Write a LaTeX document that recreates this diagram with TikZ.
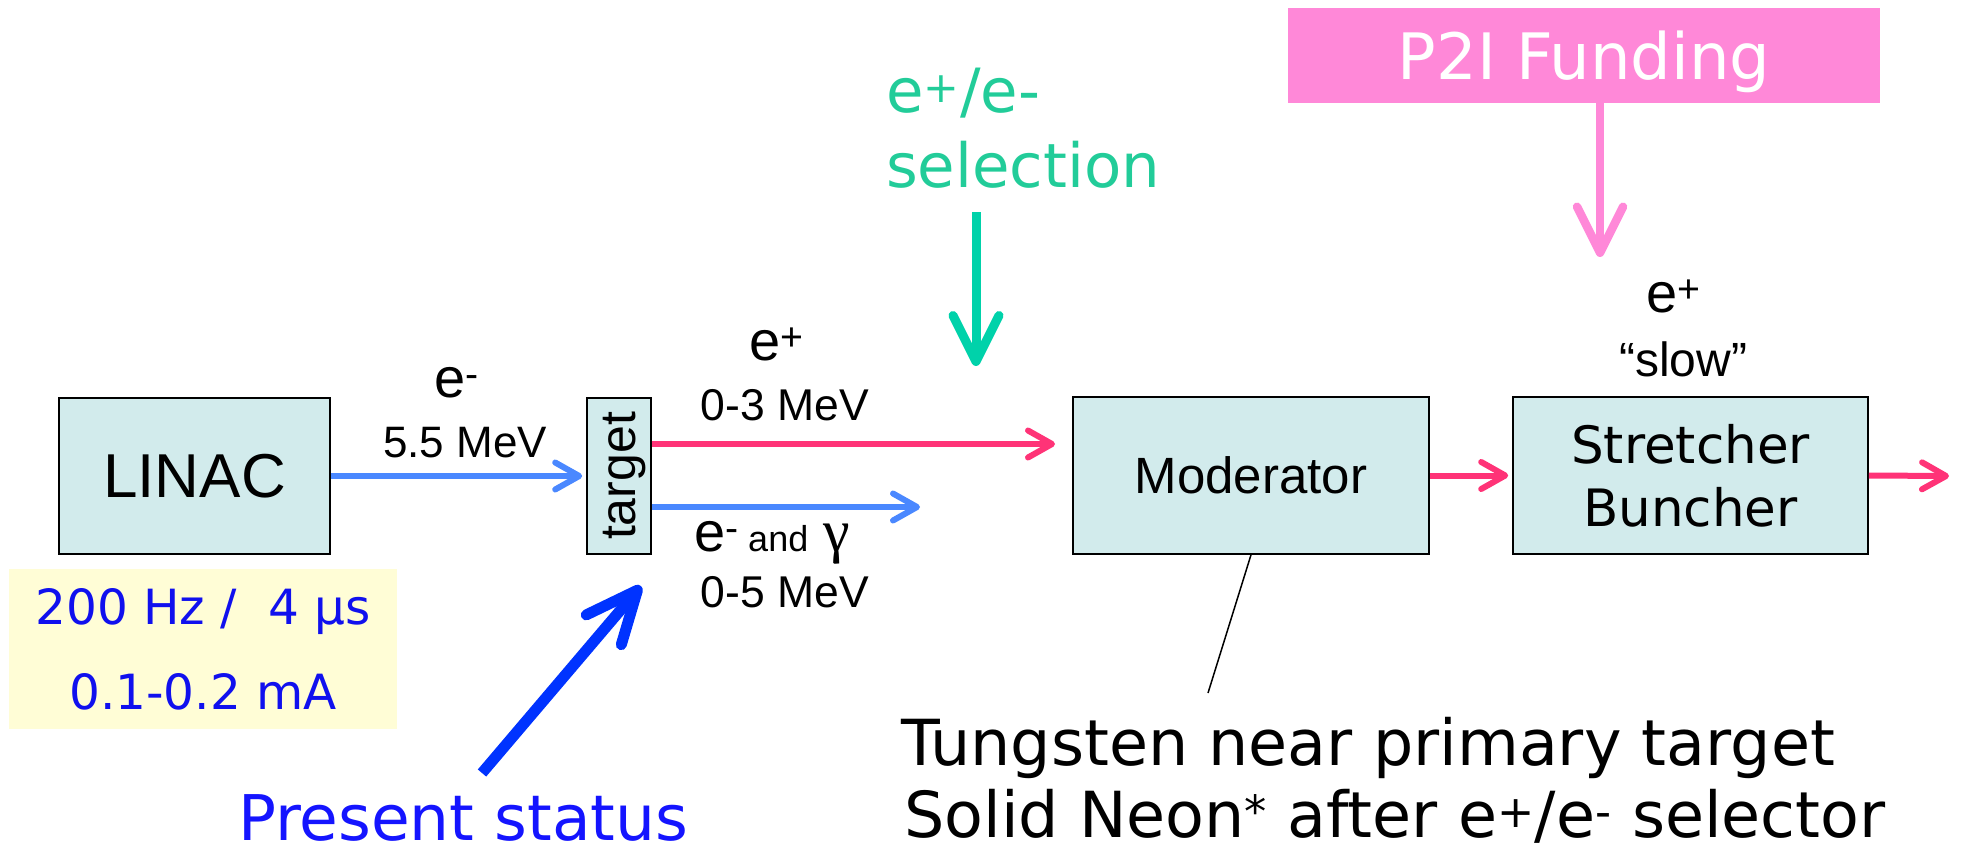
\documentclass[tikz,border=0pt]{standalone}
\usepackage{fontspec}
\setmainfont{Liberation Sans}
\newfontfamily\verd{DejaVu Sans}
\newfontfamily\grk{Liberation Serif}
\usetikzlibrary{arrows.meta}
\definecolor{boxfill}{HTML}{D2EBEC}
\definecolor{yel}{HTML}{FFFDD6}
\definecolor{pinkbox}{HTML}{FF88D8}
\definecolor{posred}{HTML}{FF3377}
\definecolor{eblue}{HTML}{4A88FF}
\definecolor{selarrow}{HTML}{00D2AA}
\definecolor{seltext}{HTML}{22CC99}
\definecolor{statblue}{HTML}{0033FF}
\definecolor{stattext}{HTML}{1414FF}
\definecolor{partext}{HTML}{1010EE}
\newcommand\sz[2]{\fontsize{#1}{#2}\selectfont}
\begin{document}
\begin{tikzpicture}[x=1pt,y=-1pt,
  box/.style={draw=black, line width=1.6pt, fill=boxfill, inner sep=0pt, align=center},
  txt/.style={inner sep=0pt},
  beam/.style={line width=6pt, -{Straight Barb[length=24pt,width=27pt,round]}},
  bigarrow/.style={-{Straight Barb[length=46pt,width=46pt,round]}},
]
\useasboundingbox (0,0) rectangle (1962,849);

% boxes
\node[box, minimum width=271pt, minimum height=156pt, font=\sz{62}{70}] (linac) at (194.5,476) {LINAC};
\node[box, minimum width=64pt, minimum height=156pt] (target) at (619,476) {};
\node[txt, rotate=90, text depth=0pt, font=\sz{50}{56}] (targettxt) at (target.center) {target};
\node[box, minimum width=356pt, minimum height=157pt, font=\sz{51}{58}] (mod) at (1251,475.5) {Moderator};
\node[box, minimum width=355pt, minimum height=157pt, font={\verd\sz{51.5}{63}}] (sb) at (1690.5,475.5) {Stretcher\\Buncher};

% parameter box
\node[fill=yel, inner sep=0pt, minimum width=388pt, minimum height=160pt, align=center,
      text=partext, font={\verd\sz{48.5}{85}}] (params) at (203,649) {200 Hz /\ \ 4 µs\\0.1-0.2 mA};

% funding box
\node[fill=pinkbox, inner sep=0pt, minimum width=592pt, minimum height=95pt, text=white,
      text depth=0pt, font={\verd\sz{64}{70}}] (fund) at (1584,55.5) {P2I Funding};

% coordinates for free ends
\coordinate (redend) at (1055,444);
\coordinate (blueend) at (920,507);
\coordinate (outend) at (1949,476);
\coordinate (selstart) at (976,212);
\coordinate (selend) at (976,366);
\coordinate (fundend) at (1600,257);
\coordinate (statstart) at (482,773);
\coordinate (statend) at (641,586);
\coordinate (noteend) at (1208,693);

% beams
\draw[beam, eblue, shorten >=4pt] (linac.east) -- (target.west);
\draw[beam, posred] ([yshift=32pt]target.east) -- (redend);
\draw[beam, eblue] ([yshift=-31pt]target.east) -- (blueend);
\draw[beam, posred, shorten >=4pt] (mod.east) -- (sb.west);
\draw[beam, posred] (sb.east) -- (outend);

% vertical arrows
\draw[bigarrow, selarrow, line width=9pt] (selstart) -- (selend);
\draw[bigarrow, pinkbox, line width=8.5pt] ([xshift=16pt]fund.south) -- (fundend);
\draw[statblue, line width=11pt, -{Straight Barb[length=52pt,width=46pt,round]}] (statstart) -- (statend);

% note line
\draw[black, line width=1.5pt] (mod.south) -- (noteend);

% beam labels
\node[txt, anchor=base, font=\sz{56}{60}] (lbl1) at (457,397) {e\textsuperscript{-}};
\node[txt, anchor=base, font=\sz{44}{50}] (lbl2) at (465,457) {5.5 MeV};
\node[txt, anchor=base, font=\sz{56}{60}] (lbl3) at (777,360) {e\textsuperscript{+}};
\node[txt, anchor=base, font=\sz{44.5}{50}] (lbl4) at (785,420) {0-3 MeV};
\node[txt, anchor=base west, font=\sz{56}{60}] (lbl5) at (694,551) {e\textsuperscript{-}\,{\sz{36}{40}and} {\grk\sz{60}{60}γ}};
\node[txt, anchor=base, font=\sz{44.5}{50}] (lbl6) at (785,607) {0-5 MeV};
\node[txt, anchor=base, font=\sz{56}{60}] (lbl7) at (1674,312) {e\textsuperscript{+}};
\node[txt, anchor=base, font=\sz{48}{54}] (lbl8) at (1683,376) {“slow”};

% selection label
\node[txt, anchor=base west, text=seltext, font={\verd\sz{61}{75}}] (sel1) at (886,112) {e\textsuperscript{+}/e-};
\node[txt, anchor=base west, text=seltext, font={\verd\sz{61}{75}}] (sel2) at (886,187) {selection};

% status label
\node[txt, anchor=base west, text=stattext, font={\verd\sz{63}{70}}] (status) at (238,840) {Present status};

% moderator note
\node[txt, anchor=base west, font={\verd\sz{63.5}{70}}] (note1) at (901,765) {Tungsten near primary target};
\node[txt, anchor=base west, font={\verd\sz{63.5}{70}}] (note2) at (904,837) {Solid Neon\textsuperscript{*} after e\textsuperscript{+}/e\textsuperscript{-} selector};
\end{tikzpicture}
\end{document}
